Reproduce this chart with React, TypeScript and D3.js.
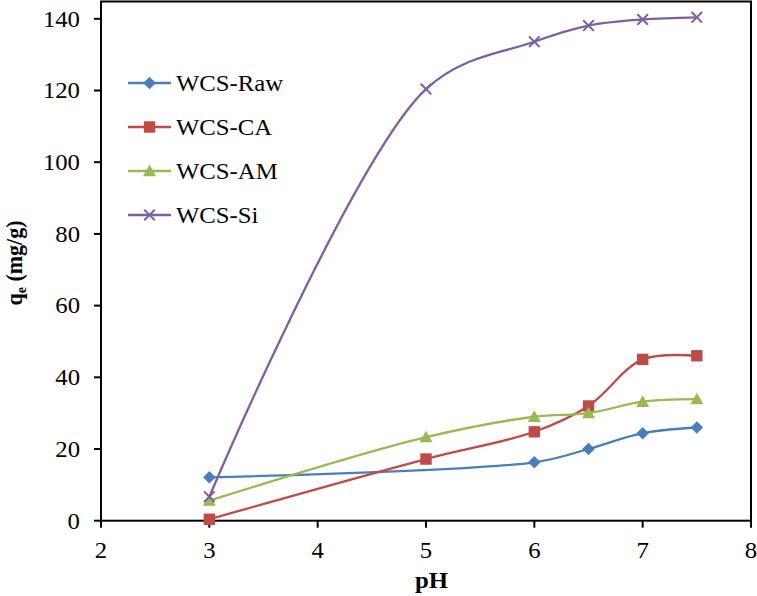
import React from "react";
import * as d3 from "d3";

const xTicks = [2, 3, 4, 5, 6, 7, 8];
const yTicks = [0, 20, 40, 60, 80, 100, 120, 140];

const rawX = [3, 6, 6.5, 7, 7.5];
const rawY = [12.1, 16.3, 20.0, 24.4, 26.0];
const caX = [3, 5, 6, 6.5, 7, 7.5];
const caY = [0.4, 17.2, 24.8, 32.0, 45.0, 46.0];
const amX = [3, 5, 6, 6.5, 7, 7.5];
const amY = [5.6, 23.3, 29.0, 30.0, 33.2, 33.9];
const siX = [3, 5, 6, 6.5, 7, 7.5];
const siY = [6.7, 120.4, 133.6, 138.1, 139.8, 140.4];

const seriesNames = ["WCS-Raw", "WCS-CA", "WCS-AM", "WCS-Si"];
const seriesColors = ["#4A7EBB", "#BE4B48", "#98B954", "#7D60A0"];
const seriesMarkers = ["diamond", "square", "triangle", "x"];

const series = [
  { name: seriesNames[0], xs: rawX, ys: rawY, color: seriesColors[0], marker: seriesMarkers[0] },
  { name: seriesNames[1], xs: caX, ys: caY, color: seriesColors[1], marker: seriesMarkers[1] },
  { name: seriesNames[2], xs: amX, ys: amY, color: seriesColors[2], marker: seriesMarkers[2] },
  { name: seriesNames[3], xs: siX, ys: siY, color: seriesColors[3], marker: seriesMarkers[3] },
];

const FONT = '"Liberation Serif", "Times New Roman", Times, serif';
const textStyle: React.CSSProperties = { fontFamily: FONT };
const SX = 1.1;
const FS = 22.5;

function Marker({ type, x, y, color }: { type: string; x: number; y: number; color: string }) {
  if (type === "diamond") {
    const s = 6.3;
    return <path d={`M${x},${y - s}L${x + s},${y}L${x},${y + s}L${x - s},${y}Z`} fill={color} />;
  }
  if (type === "square") {
    const s = 5.7;
    return <rect x={x - s} y={y - s} width={2 * s} height={2 * s} fill={color} />;
  }
  if (type === "triangle") {
    const s = 6.5;
    return <path d={`M${x},${y - s}L${x + s},${y + s * 0.8}L${x - s},${y + s * 0.8}Z`} fill={color} />;
  }
  const s = 5.3;
  return (
    <path
      d={`M${x - s},${y - s}L${x + s},${y + s}M${x - s},${y + s}L${x + s},${y - s}`}
      stroke={color}
      strokeWidth={2}
      fill="none"
    />
  );
}

function T({
  x,
  y,
  anchor = "start",
  bold = false,
  dy,
  children,
}: {
  x: number;
  y: number;
  anchor?: string;
  bold?: boolean;
  dy?: string;
  children: React.ReactNode;
}) {
  return (
    <text
      transform={`translate(${x},${y}) scale(${SX},1)`}
      dy={dy}
      textAnchor={anchor as any}
      style={textStyle}
      fontSize={FS}
      fontWeight={bold ? "bold" : "normal"}
      fill="#000"
    >
      {children}
    </text>
  );
}

export default function App() {
  const W = 757;
  const H = 596;
  const left = 101;
  const right = 751;
  const top = 18.8;
  const bottom = 520.7;

  const x = d3.scaleLinear().domain([2, 8]).range([left, right]);
  const y = d3.scaleLinear().domain([0, 140]).range([bottom, top]);

  const line = d3
    .line<[number, number]>()
    .x((d) => x(d[0]))
    .y((d) => y(d[1]))
    .curve(d3.curveCatmullRom.alpha(0.5));

  const legendX = 128;
  const legendY0 = 83;
  const legendDy = 44;

  return (
    <svg width={W} height={H} style={{ display: "block", position: "absolute", left: 0, top: 0 }}>
      <rect x={0} y={0} width={W} height={H} fill="#fff" />
      <rect x={left} y={1.5} width={right - left} height={bottom - 1.5} fill="none" stroke="#000" strokeWidth={2} />

      {yTicks.map((t) => (
        <g key={"y" + t}>
          <line x1={left - 7} x2={left} y1={y(t)} y2={y(t)} stroke="#000" strokeWidth={2} />
          <T x={80} y={y(t)} dy="0.35em" anchor="end">
            {t}
          </T>
        </g>
      ))}
      {xTicks.map((t) => (
        <g key={"x" + t}>
          <line x1={x(t)} x2={x(t)} y1={bottom} y2={bottom + 7} stroke="#000" strokeWidth={2} />
          <T x={x(t)} y={558} anchor="middle">
            {t}
          </T>
        </g>
      ))}

      {series.map((s) => {
        const pts: [number, number][] = s.xs.map((v, i) => [v, s.ys[i]]);
        return (
          <g key={s.name}>
            <path d={line(pts) || ""} fill="none" stroke={s.color} strokeWidth={2.3} />
            {pts.map((p, i) => (
              <Marker key={i} type={s.marker} x={x(p[0])} y={y(p[1])} color={s.color} />
            ))}
          </g>
        );
      })}

      {series.map((s, i) => {
        const ly = legendY0 + i * legendDy;
        return (
          <g key={"lg" + s.name}>
            <line x1={legendX} x2={legendX + 43} y1={ly} y2={ly} stroke={s.color} strokeWidth={2.3} />
            <Marker type={s.marker} x={legendX + 21.5} y={ly} color={s.color} />
            <T x={legendX + 48} y={ly} dy="0.35em">
              {s.name}
            </T>
          </g>
        );
      })}

      <T x={431.5} y={588} anchor="middle" bold>
        pH
      </T>
      <text
        transform={`translate(22,263) scale(1.05,1) rotate(-90)`}
        textAnchor="middle"
        style={textStyle}
        fontSize={22}
        fontWeight="bold"
        fill="#000"
      >
        q<tspan fontSize={14} dy={4}>e</tspan>
        <tspan dy={-4}> (mg/g)</tspan>
      </text>
    </svg>
  );
}
